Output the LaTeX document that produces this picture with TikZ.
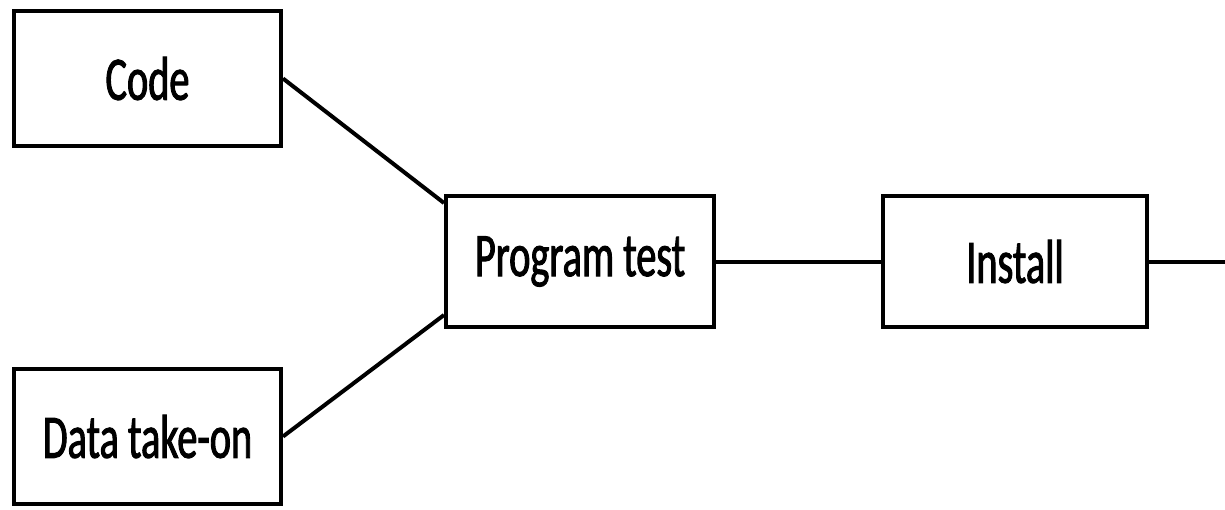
\documentclass[tikz,border=0pt]{standalone}
\usepackage{fontspec}
\setmainfont[FakeStretch=0.65,FakeBold=1.5]{Carlito}
\begin{document}
\begin{tikzpicture}[x=1pt,y=-1pt,
  stepbox/.style={draw=black,line width=4pt,rectangle,inner sep=0pt,
    font=\fontsize{62}{70}\selectfont},
  conn/.style={draw=black,line width=4pt}]
\useasboundingbox (0,0) rectangle (1225,509);
\node[stepbox,minimum width=267pt,minimum height=135pt] (code) at (147.5,78.5) {Code};
\node[stepbox,minimum width=267pt,minimum height=135pt] (data) at (147.5,436.5) {Data take-on};
\node[stepbox,minimum width=268pt,minimum height=131pt] (pt) at (580,261.5) {Program test};
\node[stepbox,minimum width=264pt,minimum height=131pt] (inst) at (1015,261.5) {Install};
\coordinate (endr) at (1225,261.5);
\draw[conn] (code.east) -- ([yshift=-9pt]pt.north west);
\draw[conn] (data.east) -- ([yshift=14pt]pt.south west);
\draw[conn] (pt.east) -- (inst.west);
\draw[conn] (inst.east) -- (endr);
\end{tikzpicture}
\end{document}
